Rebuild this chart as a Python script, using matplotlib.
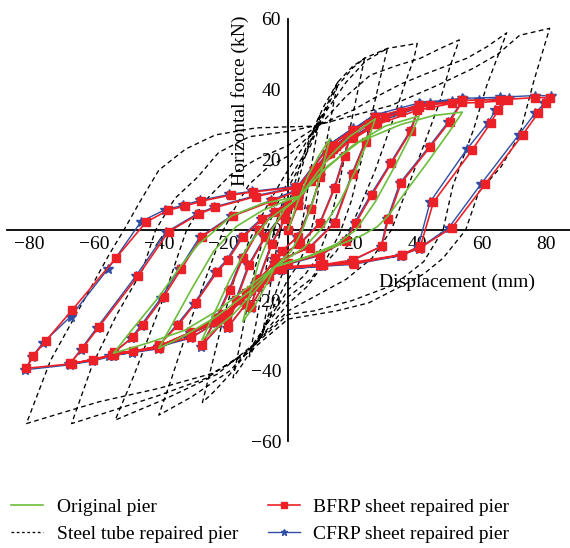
import matplotlib.pyplot as plt
import numpy as np
from matplotlib.lines import Line2D

plt.rcParams['font.family'] = ['Liberation Serif', 'DejaVu Serif']
plt.rcParams['axes.unicode_minus'] = True

# displacement (mm), horizontal force (kN) -- one continuous load path per pier
original = [
    (0, 0), (3, 8), (6, 15), (9.5, 21), (13, 26),
    (11, 19), (8, 9), (4.5, 0), (1, -6), (-4, -10.4),
    (-7, -16), (-10, -21), (-14, -26),
    (-12, -19), (-9, -9), (-5, 0), (-1, 6), (3.7, 9.6),
    (8, 15), (13, 21), (19, 26.5), (27, 31.6),
    (25, 26), (21, 17), (16, 8), (11, 1), (5, -5), (-4, -10.4),
    (-10, -17), (-17, -24), (-23.7, -29), (-26.7, -31.3),
    (-23, -24), (-18, -14), (-12, -4), (-6, 3), (0, 7), (3.7, 9.6),
    (10, 16), (20, 24), (30, 29.5), (40.6, 32.4),
    (38, 27), (33, 18), (27, 8), (21, 0), (15, -4), (5, -8), (-4, -10.4),
    (-12, -17.5), (-22, -24.5), (-32, -30), (-40, -33.6),
    (-36, -27), (-30, -17), (-23, -6), (-16, 1), (-8, 5.5), (0, 8.5), (3.7, 9.6),
    (12, 18), (22, 25), (35, 30), (45, 32.5), (54, 33.5),
    (50, 28), (43, 19), (37, 11.6), (31, 4), (27.7, 1), (23, -1.5), (17.5, -3.6),
    (8, -7), (-4, -10.4),
    (-12, -16), (-22, -23), (-32, -28.5), (-43, -32), (-54, -35),
    (-48, -28), (-40, -19), (-33, -10), (-27.7, -4), (-23.7, -1), (-17.5, 4),
    (-8, 7.5), (3.7, 9.6),
]

steel_tube = [
    (0, 0), (2, 10), (5, 20), (8, 28), (10, 33),
    (8.5, 25), (6.5, 14), (5, 5), (3.5, -2), (1, -8), (-2, -13), (-5, -21), (-8, -30),
    (-6.5, -22), (-5, -13), (-3.5, -5), (-2, 1), (0, 7),
    (2, 13), (5, 22), (8, 29), (11, 35), (15.4, 42),
    (13.5, 33), (11.5, 23), (9.5, 12), (8, 3), (6, -4), (3, -10), (0, -14),
    (-4, -21), (-8, -29), (-12, -36),
    (-10, -27), (-8, -17), (-6, -7), (-4, 1), (-2, 7), (0, 12),
    (3, 17), (7, 24), (10, 31), (15.4, 41), (20, 46), (23.7, 48.8),
    (21.5, 39), (19, 28), (16.5, 16), (14, 6), (12, -1), (9, -8), (5, -13), (0, -17),
    (-5, -24), (-10, -32), (-14, -38), (-17, -42),
    (-15, -33), (-12.5, -21), (-10, -10), (-7.5, -2), (-4, 6), (0, 14),
    (4, 20), (8, 27), (12, 34), (18, 42), (24, 48), (30.8, 51.6),
    (28.5, 43), (25.5, 31), (22.5, 19), (19.5, 8), (16, -1), (12, -8), (7, -14), (0, -19),
    (-6, -26), (-12, -34), (-18, -41), (-23, -46), (-26.5, -49),
    (-23.5, -38), (-20, -25), (-16, -12), (-12, -3), (-7, 6), (-2, 14), (0, 17),
    (5, 24), (10, 31.6), (15.4, 42), (20, 46.5), (23.7, 48.8), (30.8, 51.6), (40, 53),
    (39, 48.8), (36, 41), (32, 30), (27, 17), (22, 6), (19, 0), (15, -6), (10, -11),
    (6, -16), (0, -21),
    (-8, -30), (-18, -40), (-30, -47.5), (-40, -52.6),
    (-36, -42), (-31, -28), (-26, -15), (-22, -5), (-20, 0), (-16, 7), (-12, 13),
    (-6, 18), (0, 21),
    (8, 28), (13, 33), (18, 38), (25.5, 44), (33, 46.5), (41, 48.8), (47, 51.5), (53, 54),
    (50, 46), (47, 36.5), (42, 24), (37, 12), (32, 0), (26, -8), (18, -14), (8, -19),
    (0, -23),
    (-10, -32), (-22, -41), (-38, -48), (-53.5, -54),
    (-48, -42), (-43, -30), (-38, -18), (-34, -7), (-31.4, 0), (-26, 8), (-18, 15.5),
    (-10, 20), (0, 24),
    (10, 30), (20, 34), (27.7, 38), (35, 41.5), (43, 44.5), (55.4, 48.8), (61.5, 52),
    (67.7, 56),
    (61.5, 41), (57.5, 28.7), (54, 20), (51, 12.4), (48, 0), (42, -9), (33, -15.5),
    (20, -20), (8, -23), (0, -24),
    (-12, -34), (-25, -42), (-40, -47), (-55, -51.5), (-67, -55),
    (-60.6, -38.4), (-53, -24), (-45, -11.3), (-41, 0), (-35, 9), (-28, 15),
    (-21.5, 22), (-12, 26.5), (0, 28),
    (8, 29.5), (20, 32.5), (31.7, 35.3), (46, 41), (57.5, 46), (65, 50), (71.7, 55.3),
    (81, 57.3),
    (76, 42), (71.7, 27), (66, 18), (59, 10.7), (55, 0), (48, -8), (42, -12.5),
    (35, -16), (25, -20.7), (15, -23), (4, -24.7), (0, -25.3),
    (-6, -30), (-12.3, -34.9), (-23.7, -40.8), (-40, -45), (-58.5, -48.8),
    (-72, -52.5), (-81, -55),
    (-73.5, -37), (-62, -18), (-55.4, -7), (-50.8, 0), (-46, 7.8), (-40, 17),
    (-31.7, 23), (-22.5, 27), (-10, 29), (0, 29.3), (8, 29.5),
]

bfrp = [
    (0, 0), (3, 7), (7, 14), (12, 21.5),
    (10, 15), (7, 6), (3, -2), (-2, -6),
    (-6, -13), (-11.4, -21.8),
    (-9, -14), (-5, -4), (-1, 3),
    (3, 8.5), (9.8, 17), (13, 24), (20, 28.5),
    (17.5, 21), (14.5, 12), (10, 2), (3.7, -4), (-4, -8),
    (-9, -15), (-13, -21), (-18.5, -27.5),
    (-16, -20), (-12, -10), (-7, -2), (-1, 5),
    (3, 9), (8.3, 16), (14, 23), (20, 28), (26.8, 32.2),
    (24, 25), (20, 16), (14.5, 2), (6.8, -5), (-4, -9),
    (-10, -15), (-13, -17.8), (-19, -25), (-26.7, -32.7),
    (-22, -25), (-18, -17), (-14, -8), (-9, 0), (-4, 5),
    (3, 10), (10, 18), (20, 26), (30, 32), (40.6, 35),
    (38, 28), (32, 19), (26, 10), (21, 2), (18, -3), (10, -7), (0, -9.5),
    (-10, -16), (-20, -25), (-30, -30.5), (-40, -32.7),
    (-34, -27), (-28.6, -20.7), (-22, -12), (-18.5, -8.4), (-14, -2), (-8, 3), (0, 7),
    (2.5, 11), (8, 17), (15, 24), (25, 30), (35, 33.5), (44, 35.6), (54, 36.5),
    (50, 30.7), (44, 23.6), (35, 13.3), (31, 3), (29, -4.6), (20, -8.5), (10, -10),
    (-3, -11),
    (-11.4, -17), (-20, -24), (-30, -29), (-40, -33), (-48, -34.5), (-53.8, -34.7),
    (-48, -30.5), (-45, -27), (-38.5, -19), (-33, -11), (-26.7, -1.9), (-17, 4),
    (-5, 8.2), (2.5, 11),
    (13, 22), (27.7, 30), (40, 34), (50.8, 36), (59, 36.2), (68, 36.8),
    (65, 34), (62.8, 30.5), (57, 22.7), (45, 7.9), (41, -4.6), (35.4, -7), (20, -9.2),
    (10.8, -9.8), (-2, -10.5),
    (-10, -16), (-22, -26), (-40, -33), (-54, -35.5), (-60.5, -37), (-67.4, -37.9),
    (-63.6, -33.6), (-58.5, -27.5), (-46.4, -13), (-37, -0.5), (-27.7, 4.5),
    (-22.5, 6.4), (-10, 9.5), (3, 12),
    (13, 24), (26.8, 32), (40.6, 35.5), (54, 36.8), (65.5, 37), (76.4, 37.6), (81, 37.6),
    (80, 36), (77.5, 33.3), (72.6, 27), (61, 13), (50.8, 0.7), (41, -5), (35.4, -7),
    (20.3, -9.6), (10.8, -10), (-2, -11),
    (-7, -14), (-20, -25), (-40, -33.5), (-54.5, -35.5), (-67, -38), (-81, -39.3),
    (-78.8, -35.7), (-75, -31.5), (-66.8, -22.7), (-53.3, -8), (-44, 2.2), (-37.2, 5.6),
    (-31.8, 6.8), (-26.8, 8.2), (-17.8, 9.9), (-10.8, 10.8), (2.5, 12.2),
]

cfrp = [
    (0, 0), (3, 7.2), (7, 14.3), (12, 21.9),
    (10, 15.2), (6.8, 6), (2.8, -2), (-2.2, -6.3),
    (-6.2, -13.3), (-11.6, -22.2),
    (-9.2, -14), (-5.2, -4), (-1.2, 3),
    (3, 8.8), (9.6, 17.3), (13, 24.4), (20, 28.9),
    (17.3, 21), (14.3, 12), (9.8, 2), (3.4, -4), (-4.3, -8.3),
    (-9.3, -15.3), (-13.3, -21.3), (-18.8, -27.9),
    (-16.3, -20), (-12.3, -10), (-7.3, -2), (-1.3, 5),
    (3, 9.3), (8.2, 16.3), (14, 23.3), (20, 28.3), (26.9, 32.8),
    (23.8, 25), (19.8, 16), (14.3, 2), (6.5, -5), (-4.3, -9.3),
    (-10.3, -15.3), (-13.3, -18), (-19.3, -25.3), (-27, -33.2),
    (-22.3, -25), (-18.3, -17), (-14.3, -8), (-9.3, 0), (-4.3, 5),
    (3, 10.3), (10, 18.3), (20, 26.3), (30, 32.4), (40.8, 35.7),
    (37.7, 28), (31.7, 19), (25.6, 10), (20.6, 2), (17.7, -3), (9.7, -7.3), (-0.3, -9.8),
    (-10.3, -16.3), (-20.3, -25.3), (-30.3, -30.8), (-40.4, -33.2),
    (-34.5, -27), (-29.1, -20.9), (-22.5, -12), (-19, -8.5), (-14.5, -2), (-8.5, 3),
    (-0.4, 7),
    (2.5, 11.3), (8, 17.3), (15, 24.3), (25, 30.4), (35, 34), (44, 36.1), (54.3, 37.2),
    (49.6, 30.7), (43.6, 23.6), (34.6, 13.3), (30.7, 3), (28.8, -4.7), (19.7, -8.8),
    (9.7, -10.3), (-3.3, -11.3),
    (-11.7, -17.3), (-20.3, -24.3), (-30.3, -29.3), (-40.3, -33.3), (-48.3, -34.9),
    (-54.2, -35.1),
    (-48.6, -30.7), (-45.6, -27.2), (-39.2, -19.2), (-33.7, -11.2), (-27.4, -2.1),
    (-17.5, 4), (-5.3, 8.4), (2.3, 11.3),
    (13, 22.4), (27.7, 30.6), (40, 34.6), (50.8, 36.7), (59, 36.9), (68.3, 37.5),
    (64.2, 34), (62, 30.5), (55.4, 23), (44, 8), (40.3, -4.7), (34.8, -7.3),
    (19.7, -9.4), (10.4, -10), (-2.3, -10.7),
    (-10.3, -16.3), (-22.3, -26.3), (-40.3, -33.3), (-54.3, -35.8), (-60.8, -37.3),
    (-67.7, -38.2),
    (-64.2, -34), (-59.2, -27.8), (-47.2, -13.2), (-37.7, -0.6), (-28.3, 4.5),
    (-23, 6.5), (-10.3, 9.7), (2.8, 12.2),
    (13, 24.4), (26.8, 32.7), (40.6, 36.1), (54, 37.4), (65.5, 37.7), (76.4, 38.2),
    (81.5, 38.1),
    (79.4, 36), (76.6, 33.3), (71.4, 27), (59.7, 13), (49.8, 0.7), (40.4, -5.3),
    (34.9, -7.3), (20, -9.8), (10.5, -10.3), (-2.3, -11.3),
    (-7.3, -14.3), (-20.3, -25.3), (-40.3, -33.8), (-55.5, -35.8), (-67.5, -38.3),
    (-81.3, -39.7),
    (-79.3, -36), (-75.8, -32), (-67.3, -24.6), (-55.7, -11), (-45.5, 2.4), (-38, 5.8),
    (-32.5, 7), (-27.3, 8.4), (-18.2, 10.1), (-11, 11), (2.3, 12.4),
]

x_ticks = [-80, -60, -40, -20, 20, 40, 60, 80]
y_ticks = [-60, -40, -20, 0, 20, 40, 60]

GREEN = '#6cbd3c'
RED = '#ec2128'
BLUE = '#2f4da3'
dash = (0, (3.6, 2.6))

fig = plt.figure(figsize=(5.7, 5.48), dpi=100)
ax = fig.add_axes([7 / 570, 0.1949, 563 / 570, 0.7708])

sx, sy = np.array(steel_tube).T
ax.plot(sx, sy, color='black', lw=0.95, ls=dash, zorder=1)
cx, cy = np.array(cfrp).T
ax.plot(cx, cy, color=BLUE, lw=1.0, marker='*', ms=7, mfc=BLUE, mec=BLUE, zorder=2)
bx, by = np.array(bfrp).T
ax.plot(bx, by, color=RED, lw=1.2, marker='s', ms=5.5, mfc=RED, mec=RED, zorder=3)
ox, oy = np.array(original).T
ax.plot(ox, oy, color=GREEN, lw=1.2, zorder=4)

ax.set_xlim(-87, 87.3)
ax.set_ylim(-60, 60)
ax.set_xticks(x_ticks)
ax.set_yticks(y_ticks)
ax.set_xticklabels([f'{v:d}'.replace('-', '\u2212') for v in x_ticks])
ax.set_yticklabels([f'{v:d}'.replace('-', '\u2212') for v in y_ticks])

for side in ('top', 'right'):
    ax.spines[side].set_visible(False)
ax.spines['left'].set_position(('data', 0))
ax.spines['bottom'].set_position(('data', 0))
for side in ('left', 'bottom'):
    ax.spines[side].set_linewidth(1.3)
    ax.spines[side].set_zorder(0.5)
ax.tick_params(axis='both', length=0, labelsize=14)
ax.tick_params(axis='y', pad=5)
ax.tick_params(axis='x', pad=4)
ax.patch.set_visible(False)

ax.text(-15, 36.6, 'Horizontal force (kN)', rotation=90, ha='center', va='center',
        fontsize=14)
ax.text(52.3, -14.8, 'Displacement (mm)', ha='center', va='center', fontsize=14)

handles = [
    Line2D([], [], color=GREEN, lw=1.2),
    Line2D([], [], color='black', lw=0.95, ls=(0, (2, 2))),
    Line2D([], [], color=RED, lw=1.2, marker='s', ms=4),
    Line2D([], [], color=BLUE, lw=1.0, marker='*', ms=5),
]
labels = ['Original pier', 'Steel tube repaired pier',
          'BFRP sheet repaired pier', 'CFRP sheet repaired pier']
fig.legend(handles, labels, ncol=2, loc='upper left', bbox_to_anchor=(0.02, 0.09),
           frameon=False, fontsize=14, handlelength=1.65, handletextpad=0.7,
           columnspacing=1.5, labelspacing=0.45, borderpad=0, borderaxespad=0)

fig.savefig('out.png', dpi=100)
